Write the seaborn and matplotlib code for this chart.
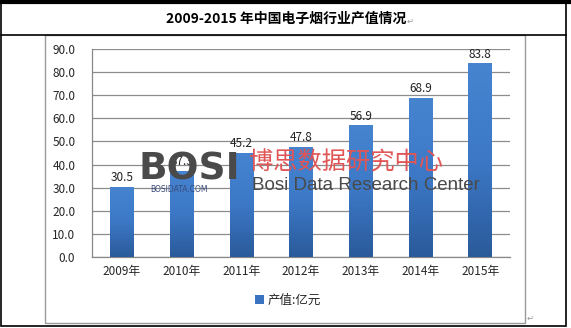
import matplotlib
matplotlib.use("Agg")
import matplotlib.pyplot as plt
import seaborn as sns
import numpy as np
import pandas as pd
from matplotlib.patches import Rectangle, Patch
from matplotlib.lines import Line2D
from matplotlib.colors import LinearSegmentedColormap

years = ["2009年", "2010年", "2011年", "2012年", "2013年", "2014年", "2015年"]
values = [30.5, 37.3, 45.2, 47.8, 56.9, 68.9, 83.8]
title = "2009-2015 年中国电子烟行业产值情况"
legend_label = "产值:亿元"

sns.set_style("white")
plt.rcParams['font.family'] = ['Noto Sans CJK SC', 'DejaVu Sans']

W, H = 571, 328
fig = plt.figure(figsize=(W / 100, H / 100), dpi=100)

def fx(x):
    return x / W

def fy(y):
    return 1 - y / H

ax = fig.add_axes([fx(92), fy(257), fx(510) - fx(92), fy(49) - fy(257)])
df = pd.DataFrame({"year": years, "value": values})
sns.barplot(data=df, x="year", y="value", ax=ax, width=0.39, color="#3a73c0",
            saturation=1, zorder=3)

# gradient fill of bars
cmap = LinearSegmentedColormap.from_list("bg", ["#2a5a9a", "#3c78c6", "#4684d0"])
grad = np.linspace(0, 1, 256).reshape(-1, 1)
for p in ax.patches:
    x0, y0 = p.get_x(), p.get_y()
    w, h = p.get_width(), p.get_height()
    p.set_facecolor("none")
    p.set_edgecolor("none")
    im = ax.imshow(grad, extent=[x0, x0 + w, y0, y0 + h], origin="lower",
                   cmap=cmap, aspect="auto", zorder=3)
    im.set_clip_path(p)

for i, v in enumerate(values):
    ax.text(i, v + 1.2, f"{v:.1f}", ha="center", va="bottom", fontsize=8.5,
            color="#222222", zorder=5)

ax.set_xlim(-0.5, 6.5)
ax.set_ylim(0, 90)
ax.set_yticks(np.arange(0, 91, 10))
ax.set_yticklabels([f"{t:.1f}" for t in np.arange(0, 91, 10)], fontsize=8.5)
ax.set_xlabel("")
ax.set_ylabel("")
ax.tick_params(axis="x", length=0, labelsize=8.5, pad=6)
ax.tick_params(axis="y", length=4, color="#888888", pad=8)
ax.set_xticks(np.arange(-0.5, 7, 1), minor=True)
ax.tick_params(axis="x", which="minor", length=4, color="#888888", direction="out")
ax.grid(axis="y", color="#8c8c8c", linewidth=0.9, zorder=0)
for s in ["top", "right"]:
    ax.spines[s].set_visible(False)
for s in ["left", "bottom"]:
    ax.spines[s].set_color("#888888")
    ax.spines[s].set_linewidth(0.9)
ax.set_facecolor("none")

# watermark
fig.text(fx(139), fy(170), "BOSI", fontsize=27, fontweight="bold", color="#4a4a4a",
         family="DejaVu Sans", va="center", ha="left", zorder=10)
fig.text(fx(150), fy(190), "BOSIDATA.COM", fontsize=5.5, color="#3a4a7a",
         family="DejaVu Sans", va="center", ha="left", zorder=10)
fig.text(fx(249), fy(163), "博思数据研究中心", fontsize=17.5, color="#e05555",
         va="center", ha="left", zorder=10)
fig.text(fx(252), fy(186), "Bosi Data Research Center", fontsize=13.5, color="#4a4a4a",
         family=["Liberation Sans", "DejaVu Sans"],
         va="center", ha="left", zorder=10)

# legend
handle = Patch(facecolor="#3a73c0", edgecolor="none")
fig.legend([handle], [legend_label], loc="center", bbox_to_anchor=(fx(288), fy(300)),
           frameon=False, fontsize=9, handlelength=0.7, handleheight=0.7,
           handletextpad=0.3)

# frames
fig.add_artist(Rectangle((fx(1), fy(326)), fx(566) - fx(1), fy(3) - fy(326),
                         transform=fig.transFigure, fill=False, edgecolor="black",
                         linewidth=1.2))
fig.add_artist(Line2D([fx(0), fx(571)], [fy(2), fy(2)], transform=fig.transFigure,
                      color="black", linewidth=3))
fig.add_artist(Line2D([fx(1), fx(566)], [fy(35), fy(35)], transform=fig.transFigure,
                      color="black", linewidth=1.2))
fig.add_artist(Rectangle((fx(45), fy(323)), fx(525) - fx(45), fy(35) - fy(323),
                         transform=fig.transFigure, fill=False, edgecolor="#9a9a9a",
                         linewidth=1.0))

fig.text(fx(286), fy(19), title, ha="center", va="center", fontsize=10,
         fontweight="bold", color="black")
fig.text(fx(407), fy(21), "↵", ha="left", va="center", fontsize=6, color="#999999",
         family=["DejaVu Sans"])
fig.text(fx(527), fy(318), "↵", ha="left", va="center", fontsize=6, color="#999999",
         family=["DejaVu Sans"])

fig.savefig("out.png", dpi=100, facecolor="white")
